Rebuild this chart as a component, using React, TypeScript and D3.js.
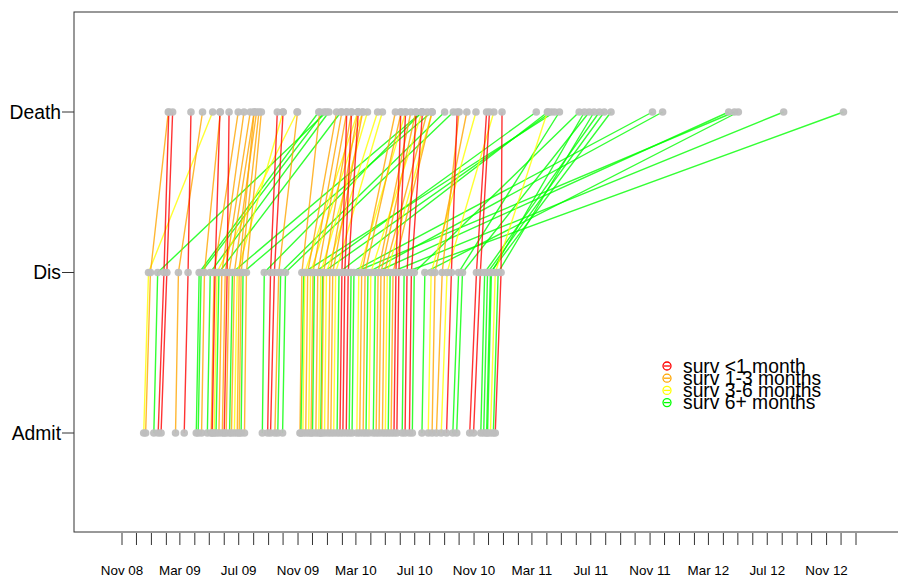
import React from "react";
import * as d3 from "d3";

// One entry per patient: admission date, length of stay (days), survival after discharge (days)
const admitDates = [
  "2008-12-16", "2008-12-20", "2009-01-06", "2009-01-15", "2009-01-21", "2009-02-20", "2009-03-10",
  "2009-04-04", "2009-04-08", "2009-04-15", "2009-04-27", "2009-05-05", "2009-05-07", "2009-05-11",
  "2009-05-15", "2009-05-21", "2009-05-28", "2009-06-01", "2009-06-05", "2009-06-12", "2009-06-16",
  "2009-06-22", "2009-06-28", "2009-07-02", "2009-07-06", "2009-07-13", "2009-08-19", "2009-08-30",
  "2009-09-05", "2009-09-14", "2009-09-20", "2009-09-30", "2009-11-05", "2009-11-07", "2009-11-11",
  "2009-11-17", "2009-11-23", "2009-11-28", "2009-12-01", "2009-12-08", "2009-12-14", "2009-12-18",
  "2009-12-20", "2009-12-26", "2010-01-02", "2010-01-08", "2010-01-14", "2010-01-21", "2010-01-27",
  "2010-02-02", "2010-02-09", "2010-02-15", "2010-02-21", "2010-03-03", "2010-03-09", "2010-03-16",
  "2010-03-22", "2010-03-28", "2010-04-06", "2010-04-12", "2010-04-18", "2010-04-25", "2010-05-01",
  "2010-05-07", "2010-05-13", "2010-05-19", "2010-05-25", "2010-06-05", "2010-06-11", "2010-06-20",
  "2010-06-26", "2010-07-16", "2010-07-29", "2010-08-06", "2010-08-15", "2010-08-25", "2010-09-05",
  "2010-09-18", "2010-09-26", "2010-10-23", "2010-10-31", "2010-11-15", "2010-11-21", "2010-11-27",
  "2010-11-29", "2010-12-05", "2010-12-11", "2010-12-15",
];

const stayDays = [
  10, 10, 8, 12, 12, 6, 8,
  6, 6, 6, 6, 6, 6, 6,
  6, 6, 6, 6, 6, 6, 6,
  6, 4, 4, 4, 4, 4, 6,
  8, 8, 6, 6, 4, 6, 4,
  4, 4, 4, 4, 4, 4, 4,
  4, 4, 4, 4, 4, 4, 4,
  4, 4, 4, 4, 4, 4, 4,
  4, 4, 4, 4, 4, 4, 4,
  4, 4, 4, 4, 4, 4, 4,
  4, 6, 6, 6, 12, 12, 10,
  12, 12, 14, 14, 8, 8, 8,
  8, 10, 10, 12,
];

const survDays = [
  133, 37, 350, 10, 12, 50, 6,
  248, 255, 33, 246, 50, 10, 166,
  253, 46, 52, 4, 52, 393, 46,
  95, 31, 37, 391, 31, 327, 14,
  18, 39, 340, 348, 37, 520, 110,
  60, 108, 60, 460, 60, 97, 474,
  58, 106, 58, 62, 97, 433, 10,
  14, 21, 625, 789, 97, 70, 75,
  611, 106, 733, 68, 72, 89, 93,
  816, 81, 10, 14, 911, 19, 23,
  342, 650, 93, 66, 35, 97, 12,
  209, 263, 21, 19, 238, 242, 250,
  193, 108, 199, 2,
];

const stageLabels = ["Admit", "Dis", "Death"];
const groupLabels = ["surv <1 month", "surv 1-3 months", "surv 3-6 months", "surv 6+ months"];
const groupColors = ["#FF0000", "#FFA500", "#FFFF00", "#00FF00"];
const groupBreaks = [30, 91, 182];
const axisStart = "2008-11-01";
const axisEnd = "2013-01-01";

const W = 898;
const H = 578;
const FONT = "'Liberation Sans', Arial, Helvetica, sans-serif";

export default function App() {
  const parse = d3.timeParse("%Y-%m-%d");
  const x = d3.scaleTime().domain([parse(axisStart)!, parse(axisEnd)!]).range([122, 856]);
  const y = d3.scaleLinear().domain([0, 2]).range([433, 112]);
  const group = d3.scaleThreshold<number, number>().domain(groupBreaks).range([0, 1, 2, 3]);

  const patients = admitDates.map((s, i) => {
    const admit = parse(s)!;
    const dis = d3.timeDay.offset(admit, stayDays[i]);
    const death = d3.timeDay.offset(dis, survDays[i]);
    return { dates: [admit, dis, death], color: groupColors[group(survDays[i])] };
  });

  const months = d3.timeMonth.range(parse(axisStart)!, d3.timeDay.offset(parse(axisEnd)!, 1));
  const fmt = d3.timeFormat("%b %y");
  const line = d3.line<Date>().x((d) => x(d)).y((_, k) => y(k));

  const frame = { left: 74, top: 12, right: W + 5, bottom: 532 };

  return (
    <svg width={W} height={H} style={{ position: "absolute", left: 0, top: 0, background: "#fff" }}>
      <rect x={0} y={0} width={W} height={H} fill="#fff" />
      <rect
        x={frame.left}
        y={frame.top}
        width={frame.right - frame.left}
        height={frame.bottom - frame.top}
        fill="none"
        stroke="#333"
        strokeWidth={1}
      />

      {/* patient trajectories */}
      <g fill="none" strokeWidth={1.4} strokeOpacity={0.8}>
        {patients.map((p, i) => (
          <path key={i} d={line(p.dates)!} stroke={p.color} />
        ))}
      </g>

      {/* event points */}
      <g fill="#BEBEBE" fillOpacity={0.95}>
        {patients.map((p, i) =>
          p.dates.map((d, k) => <circle key={`${i}-${k}`} cx={x(d)} cy={y(k)} r={3.8} />)
        )}
      </g>

      {/* stage axis */}
      <g fontFamily={FONT} fontSize={19.3} fill="#000">
        {stageLabels.map((lab, k) => (
          <g key={lab}>
            <line x1={62} x2={frame.left} y1={y(k)} y2={y(k)} stroke="#333" />
            <text x={61} y={y(k) + 6.8} textAnchor="end">
              {lab}
            </text>
          </g>
        ))}
      </g>

      {/* monthly time axis */}
      <g>
        {months.map((m, i) => (
          <line key={i} x1={x(m)} x2={x(m)} y1={frame.bottom + 1} y2={frame.bottom + 13} stroke="#333" />
        ))}
        {months.map((m, i) =>
          i % 4 === 0 ? (
            <text key={`t${i}`} x={x(m)} y={575} textAnchor="middle" fontFamily={FONT} fontSize={13.4} fill="#000">
              {fmt(m)}
            </text>
          ) : null
        )}
      </g>

      {/* legend */}
      <g fontFamily={FONT} fontSize={19.3}>
        {groupLabels.map((lab, i) => {
          const cy = 366 + i * 12.2;
          return (
            <g key={lab}>
              <circle cx={667} cy={cy} r={4} fill="none" stroke={groupColors[i]} strokeWidth={1.3} />
              <line x1={664} x2={670} y1={cy} y2={cy} stroke={groupColors[i]} strokeWidth={1.3} />
              <text x={683} y={cy + 6.8} fill="#000">
                {lab}
              </text>
            </g>
          );
        })}
      </g>
    </svg>
  );
}
